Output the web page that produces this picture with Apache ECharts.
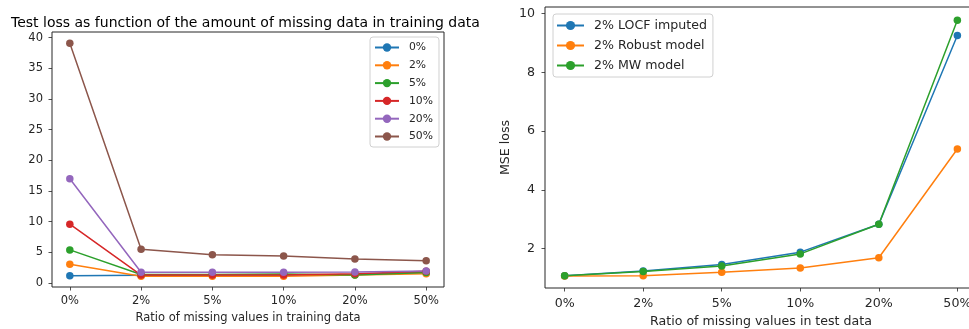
<!DOCTYPE html>
<html>
<head>
<meta charset="utf-8">
<script src="https://cdn.jsdelivr.net/npm/echarts@6/dist/echarts.min.js"></script>
<style>
  html, body { margin: 0; padding: 0; background: #fff; }
  #chart { width: 969px; height: 329px; }
</style>
</head>
<body>
<div id="chart"></div>
<script>
var chart = echarts.init(document.getElementById('chart'))

// x categories (same on both plots)
var ratios = ['0%', '2%', '5%', '10%', '20%', '50%']

// left plot: one line per amount of missing data in training
var trainNames = ['0%', '2%', '5%', '10%', '20%', '50%']
var train0 = [1.2, 1.25, 1.3, 1.3, 1.4, 1.7]
var train2 = [3.05, 1.1, 1.1, 1.1, 1.3, 1.5]
var train5 = [5.4, 1.4, 1.4, 1.45, 1.3, 1.7]
var train10 = [9.6, 1.3, 1.3, 1.3, 1.5, 1.9]
var train20 = [17.0, 1.75, 1.75, 1.75, 1.8, 1.95]
var train50 = [39.1, 5.5, 4.6, 4.4, 3.9, 3.65]
var leftTicks = [0, 5, 10, 15, 20, 25, 30, 35, 40]

// right plot: test loss per model
var modelNames = ['2% LOCF imputed', '2% Robust model', '2% MW model']
var locf = [1.08, 1.24, 1.46, 1.88, 2.83, 9.25]
var robust = [1.07, 1.08, 1.2, 1.34, 1.69, 5.39]
var mw = [1.08, 1.22, 1.41, 1.82, 2.83, 9.77]
var rightTicks = [2, 4, 6, 8, 10]

var colors = ['#1f77b4', '#ff7f0e', '#2ca02c', '#d62728', '#9467bd', '#8c564b']
var font = 'DejaVu Sans'
var ink = '#262626'
var xIdx = [0, 1, 2, 3, 4, 5]

function pts(arr) {
  return arr.map(function (v, i) { return [i, v] })
}

function xAxisOf(grid, size, margin, gap) {
  return {
    type: 'value', gridIndex: grid, min: -0.25, max: 5.25,
    axisLine: { show: false, onZero: false },
    splitLine: { show: false },
    axisTick: { show: true, customValues: xIdx, length: 3.5, lineStyle: { color: ink, width: 0.8 } },
    axisLabel: {
      customValues: xIdx, color: ink, fontSize: size, fontFamily: font, margin: margin,
      formatter: function (v) { return ratios[v] }
    },
    name: grid === 0 ? 'Ratio of missing values in training data' : 'Ratio of missing values in test data',
    nameLocation: 'middle', nameGap: gap,
    nameTextStyle: { color: ink, fontSize: size, fontFamily: font }
  }
}

function yAxisOf(grid, min, max, ticks, size, margin) {
  return {
    type: 'value', gridIndex: grid, min: min, max: max,
    axisLine: { show: false, onZero: false },
    splitLine: { show: false },
    axisTick: { show: true, customValues: ticks, length: 3.5, lineStyle: { color: ink, width: 0.8 } },
    axisLabel: { customValues: ticks, color: ink, fontSize: size, fontFamily: font, margin: margin },
    name: grid === 1 ? 'MSE loss' : '',
    nameLocation: 'middle', nameRotate: 90, nameGap: 33,
    nameTextStyle: { color: ink, fontSize: size, fontFamily: font }
  }
}

function line(name, data, color, grid) {
  return {
    type: 'line', name: name, xAxisIndex: grid, yAxisIndex: grid,
    data: pts(data), symbol: 'circle', symbolSize: 7.5,
    lineStyle: { color: color, width: 1.5 },
    itemStyle: { color: color },
    animation: false
  }
}

var series = []
var trainData = [train0, train2, train5, train10, train20, train50]
trainData.forEach(function (d, i) {
  series.push(line(trainNames[i], d, colors[i], 0))
})
series.push(line(modelNames[0], locf, colors[0], 1))
series.push(line(modelNames[1], robust, colors[1], 1))
series.push(line(modelNames[2], mw, colors[2], 1))

var option = {
  backgroundColor: '#fff',
  animation: false,
  title: {
    text: 'Test loss as function of the amount of missing data in training data',
    left: 6, top: 11,
    textStyle: { color: '#000', fontSize: 14, fontWeight: 'normal', fontFamily: font }
  },
  grid: [
    { left: 52, top: 32, width: 392, height: 255, outerBoundsMode: 'none', show: true, borderColor: ink, borderWidth: 1, backgroundColor: 'transparent' },
    { left: 545, top: 7, width: 432, height: 281, outerBoundsMode: 'none', show: true, borderColor: ink, borderWidth: 1, backgroundColor: 'transparent' }
  ],
  xAxis: [xAxisOf(0, 11.5, 8, 25), xAxisOf(1, 12.6, 9, 27)],
  yAxis: [yAxisOf(0, -0.65, 40.93, leftTicks, 11.5, 9), yAxisOf(1, 0.66, 10.22, rightTicks, 12.6, 10)],
  legend: [
    {
      data: trainNames, orient: 'vertical', left: 370, top: 37,
      padding: [5, 6, 5, 4], itemGap: 6.8, itemWidth: 24, itemHeight: 10.5,
      backgroundColor: 'rgba(255,255,255,0.8)', borderColor: '#d0d0d0', borderWidth: 1, borderRadius: 3,
      textStyle: { color: ink, fontSize: 10.8, fontFamily: font, padding: [0, 0, 0, 5] }
    },
    {
      data: modelNames, orient: 'vertical', left: 553, top: 14,
      padding: [5, 6, 5, 3], itemGap: 7, itemWidth: 27, itemHeight: 11.5,
      backgroundColor: 'rgba(255,255,255,0.8)', borderColor: '#d0d0d0', borderWidth: 1, borderRadius: 3,
      textStyle: { color: ink, fontSize: 12.6, fontFamily: font, padding: [0, 0, 0, 5] }
    }
  ],
  series: series
}

chart.setOption(option)
</script>
</body>
</html>
